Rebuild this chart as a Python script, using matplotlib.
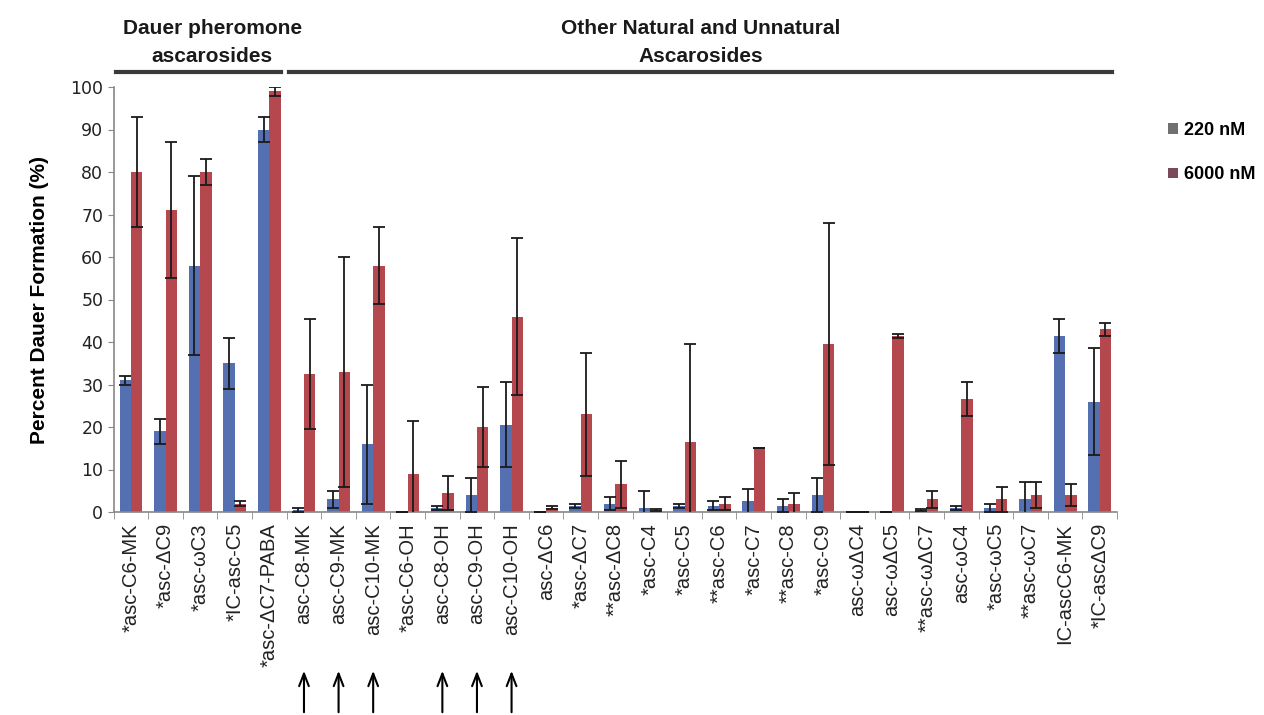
import matplotlib
matplotlib.use("Agg")
import matplotlib.pyplot as plt
import numpy as np
from matplotlib.patches import Patch
from matplotlib.lines import Line2D
import matplotlib.transforms as mtransforms

labels = ["*asc-C6-MK", "*asc-ΔC9", "*asc-ωC3", "*IC-asc-C5", "*asc-ΔC7-PABA",
          "asc-C8-MK", "asc-C9-MK", "asc-C10-MK", "*asc-C6-OH", "asc-C8-OH",
          "asc-C9-OH", "asc-C10-OH", "asc-ΔC6", "*asc-ΔC7", "**asc-ΔC8",
          "*asc-C4", "*asc-C5", "**asc-C6", "*asc-C7", "**asc-C8", "*asc-C9",
          "asc-ωΔC4", "asc-ωΔC5", "**asc-ωΔC7", "asc-ωC4", "*asc-ωC5",
          "**asc-ωC7", "IC-ascC6-MK", "*IC-ascΔC9"]

v220 = [31, 19, 58, 35, 90, 0.5, 3, 16, 0, 1, 4, 20.5, 0, 1.5, 2, 1, 1.5, 1.5,
        2.5, 1.5, 4, 0, 0, 0.5, 1, 1, 3, 41.5, 26]
e220 = [1, 3, 21, 6, 3, 0.5, 2, 14, 0, 0.5, 4, 10, 0, 0.5, 1.5, 4, 0.5, 1, 3,
        1.5, 4, 0, 0, 0.3, 0.5, 1, 4, 4, 12.5]
v6000 = [80, 71, 80, 2, 99, 32.5, 33, 58, 9, 4.5, 20, 46, 1, 23, 6.5, 0.5, 16.5,
         2, 15, 2, 39.5, 0, 41.5, 3, 26.5, 3, 4, 4, 43]
e6000 = [13, 16, 3, 0.5, 1, 13, 27, 9, 12.5, 4, 9.5, 18.5, 0.3, 14.5, 5.5, 0.3,
         23, 1.5, 0, 2.5, 28.5, 0, 0.5, 2, 4, 3, 3, 2.5, 1.5]

series_names = ["220 nM", "6000 nM"]
arrow_targets = ["asc-C8-MK", "asc-C9-MK", "asc-C10-MK", "asc-C8-OH", "asc-C9-OH", "asc-C10-OH"]

groups = [("Dauer pheromone\nascarosides", 0, 4), ("Other Natural and Unnatural\nAscarosides", 5, 28)]

blue = "#5470B0"
red = "#B5474E"

W, H = 1264, 715
fig = plt.figure(figsize=(W / 100, H / 100), dpi=100)
ax = fig.add_axes([113.7 / W, 1 - 512 / H, (1117 - 113.7) / W, (512 - 87) / H])

x = np.arange(len(labels))
bw = 0.33
ax.bar(x - bw / 2, v220, bw, color=blue, zorder=2)
ax.bar(x + bw / 2, v6000, bw, color=red, zorder=2)
ax.errorbar(x - bw / 2, v220, yerr=e220, fmt="none", ecolor="#1a1a1a",
            elinewidth=1.3, capsize=4, capthick=1.3, zorder=3)
ax.errorbar(x + bw / 2, v6000, yerr=e6000, fmt="none", ecolor="#1a1a1a",
            elinewidth=1.3, capsize=4, capthick=1.3, zorder=3)

ax.set_xlim(-0.5, len(labels) - 0.5)
ax.set_ylim(0, 100)
ax.set_yticks(np.arange(0, 101, 10))
ax.tick_params(axis="y", labelsize=12.5, length=4, color="#888888", labelcolor="#222222")
ax.set_xticks(x)
ax.set_xticklabels(labels, rotation=90, fontsize=14.5, color="#222222",
                   family=["Liberation Sans", "DejaVu Sans"])
ax.tick_params(axis="x", length=0, pad=8)
ax.set_xticks(np.arange(-0.5, len(labels), 1), minor=True)
ax.tick_params(axis="x", which="minor", length=5, color="#888888")
for s in ["top", "right"]:
    ax.spines[s].set_visible(False)
for s in ["left", "bottom"]:
    ax.spines[s].set_color("#888888")
    ax.spines[s].set_linewidth(1.2)

ax.set_ylabel("Percent Dauer Formation (%)", fontsize=15, fontweight="bold",
              family=["Liberation Sans", "DejaVu Sans"])
ax.yaxis.set_label_coords(-0.064, 0.5)

# group headers and lines
ytext = 1 - 43 / H
yline = 1 - 72 / H
trans = mtransforms.blended_transform_factory(ax.transData, fig.transFigure)
for name, i0, i1 in groups:
    xl = i0 - 0.42
    xr = i1 + 0.35
    fig.add_artist(Line2D([xl, xr], [yline, yline], transform=trans,
                          color="#3a3a3a", linewidth=3))
    fig.text((xl + xr) / 2 if i0 > 0 else 2.35, ytext, name, transform=trans,
             ha="center", va="center", fontsize=15, fontweight="bold",
             linespacing=1.6, family=["Liberation Sans Narrow", "Liberation Sans", "DejaVu Sans"],
             color="#1a1a1a")

# arrows under selected labels
for t in arrow_targets:
    i = labels.index(t)
    ax.annotate("", xy=(i, 1 - 668 / H), xytext=(i, 0.0), xycoords=trans,
                textcoords=trans,
                arrowprops=dict(arrowstyle="->,head_width=0.35,head_length=0.9",
                                color="black", lw=1.5))

handles = [Patch(facecolor="#707070", edgecolor="none", label=series_names[0]),
           Patch(facecolor="#7a4a58", edgecolor="none", label=series_names[1])]
leg = fig.legend(handles=handles, loc="upper left", bbox_to_anchor=(1152 / W, 1 - 106 / H),
                 frameon=False, handlelength=0.55, handleheight=0.55,
                 handletextpad=0.3, labelspacing=1.5,
                 prop={"weight": "bold", "size": 13, "family": ["Liberation Sans", "DejaVu Sans"]})

fig.savefig("out.png", dpi=100)
